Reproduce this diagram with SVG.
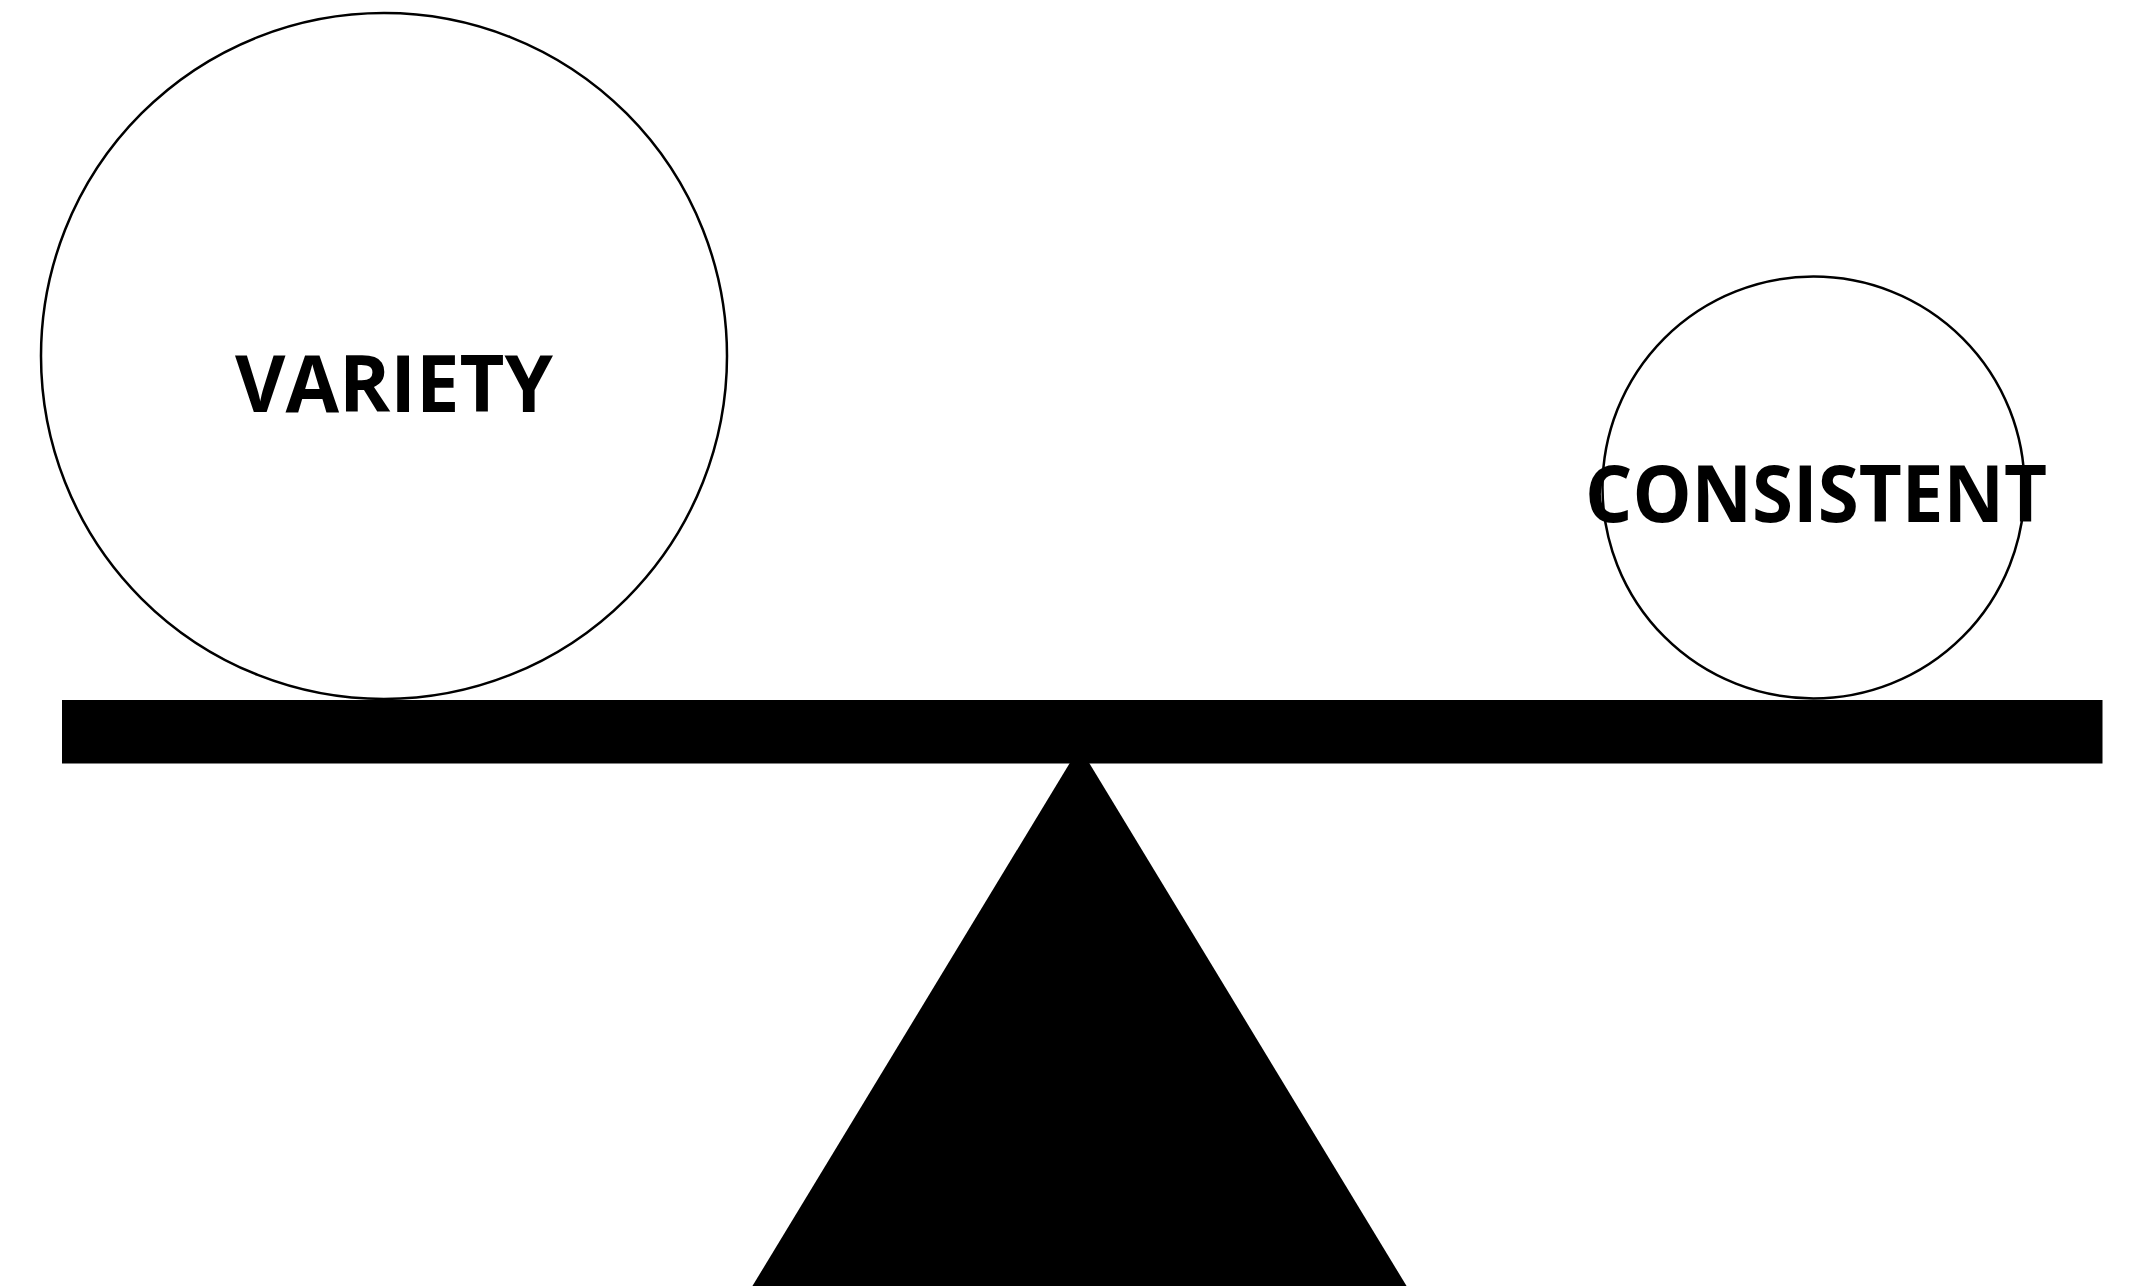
<svg xmlns="http://www.w3.org/2000/svg" width="2131" height="1286" viewBox="0 0 2131 1286">
<style>
.ball{fill:#fff;stroke:#000;stroke-width:2.5}
.lbl{font-family:"Open Sans","Noto Sans","DejaVu Sans",sans-serif;font-weight:700;font-size:78px;fill:#000}
.solid{fill:#000}
</style>
<rect width="2131" height="1286" fill="#fff"/>
<g id="fulcrum"><polygon class="solid" points="1079.5,747 1409,1290 750,1290"/></g>
<g id="beam"><rect class="solid" x="62" y="700" width="2040.5" height="63.5"/></g>
<g id="variety"><circle class="ball" cx="384" cy="356" r="343"/><text class="lbl" x="235" y="412" textLength="318" lengthAdjust="spacingAndGlyphs">VARIETY</text></g>
<g id="consistent"><circle class="ball" cx="1813.5" cy="487.5" r="211"/><text class="lbl" x="1585" y="521.5" textLength="462" lengthAdjust="spacingAndGlyphs">CONSISTENT</text></g>
<g id="connectors"/>
</svg>
